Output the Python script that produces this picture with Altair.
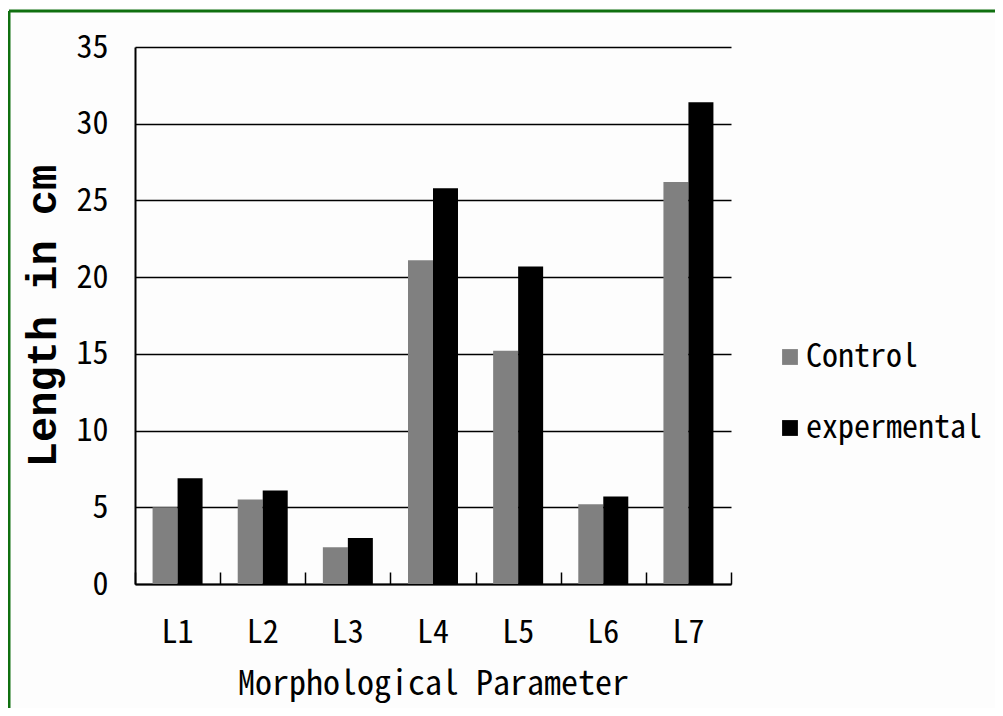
import altair as alt
import pandas as pd

categories = ["L1", "L2", "L3", "L4", "L5", "L6", "L7"]
series = ["Control", "expermental"]
control = [5.0, 5.5, 2.4, 21.1, 15.2, 5.2, 26.2]
experimental = [6.9, 6.1, 3.0, 25.8, 20.7, 5.7, 31.4]
y_ticks = [0, 5, 10, 15, 20, 25, 30, 35]
colors = ["#808080", "#000000"]

rows = []
for c, a, b in zip(categories, control, experimental):
    rows.append({"param": c, "group": series[0], "value": a})
    rows.append({"param": c, "group": series[1], "value": b})
df = pd.DataFrame(rows)

FONT = "Noto Sans Mono CJK SC, DejaVu Sans Mono"

x_main = alt.X(
    "param:N", sort=categories,
    scale=alt.Scale(paddingInner=0, paddingOuter=0),
    axis=alt.Axis(
        title="Morphological Parameter", labelAngle=0, ticks=False, tickSize=0,
        labelPadding=33, domainColor="black", domainWidth=2,
        labelFont=FONT, labelFontSize=32, labelColor="black",
        titleFont=FONT, titleFontSize=34, titleFontWeight="normal",
        titleColor="black", titlePadding=19,
    ),
)

y_main = alt.Y(
    "value:Q",
    scale=alt.Scale(domain=[0, 35], nice=False),
    axis=alt.Axis(
        values=y_ticks, grid=True, gridColor="black", gridWidth=1.5, gridOpacity=1,
        ticks=False, tickSize=0, domainColor="black", domainWidth=2,
        labelPadding=27, labelFont=FONT, labelFontSize=32, labelColor="black",
        title="Length in cm", titleFont="Liberation Mono", titleFontSize=42,
        titleFontWeight="bold", titleColor="black", titlePadding=11,
    ),
)

color = alt.Color(
    "group:N",
    scale=alt.Scale(domain=series, range=colors),
    legend=alt.Legend(
        title=None, orient="none", legendX=639, legendY=294,
        symbolType="square", symbolSize=250, symbolStrokeWidth=0,
        labelFont=FONT, labelFontSize=32, labelColor="black", labelLimit=0,
        rowPadding=39, labelOffset=0,
    ),
)

bars = alt.Chart(df).mark_bar().encode(
    x=x_main,
    xOffset=alt.XOffset("group:N", sort=series,
                        scale=alt.Scale(domain=series, paddingOuter=0.703, paddingInner=0)),
    y=y_main,
    color=color,
)

tick_layer = alt.Chart(df).mark_bar(opacity=0).encode(
    x=alt.X("param:N", sort=categories,
            axis=alt.Axis(orient="bottom", offset=-12, tickSize=12, tickBand="extent",
                          labels=False, domain=False, title=None,
                          tickColor="black", tickWidth=1.5)),
    y=alt.Y("value:Q"),
)

frame_df = pd.DataFrame({"k": [0]})
left = alt.Chart(frame_df).mark_rule(color="#107010", strokeWidth=3).encode(
    x=alt.value(-126), y=alt.value(-36), y2=alt.value(720))
top = alt.Chart(frame_df).mark_rule(color="#107010", strokeWidth=3).encode(
    x=alt.value(-126), x2=alt.value(900), y=alt.value(-36))

chart = alt.layer(bars, tick_layer, left, top).resolve_axis(x="independent").properties(
    width=596, height=537,
    padding={"left": 127, "top": 39, "right": 264, "bottom": 124},
    autosize=alt.AutoSizeParams(type="none"),
    background="#fdfdfd",
).configure_view(stroke=None)

chart.save("out.html", embed_options={"renderer": "svg", "actions": False})
